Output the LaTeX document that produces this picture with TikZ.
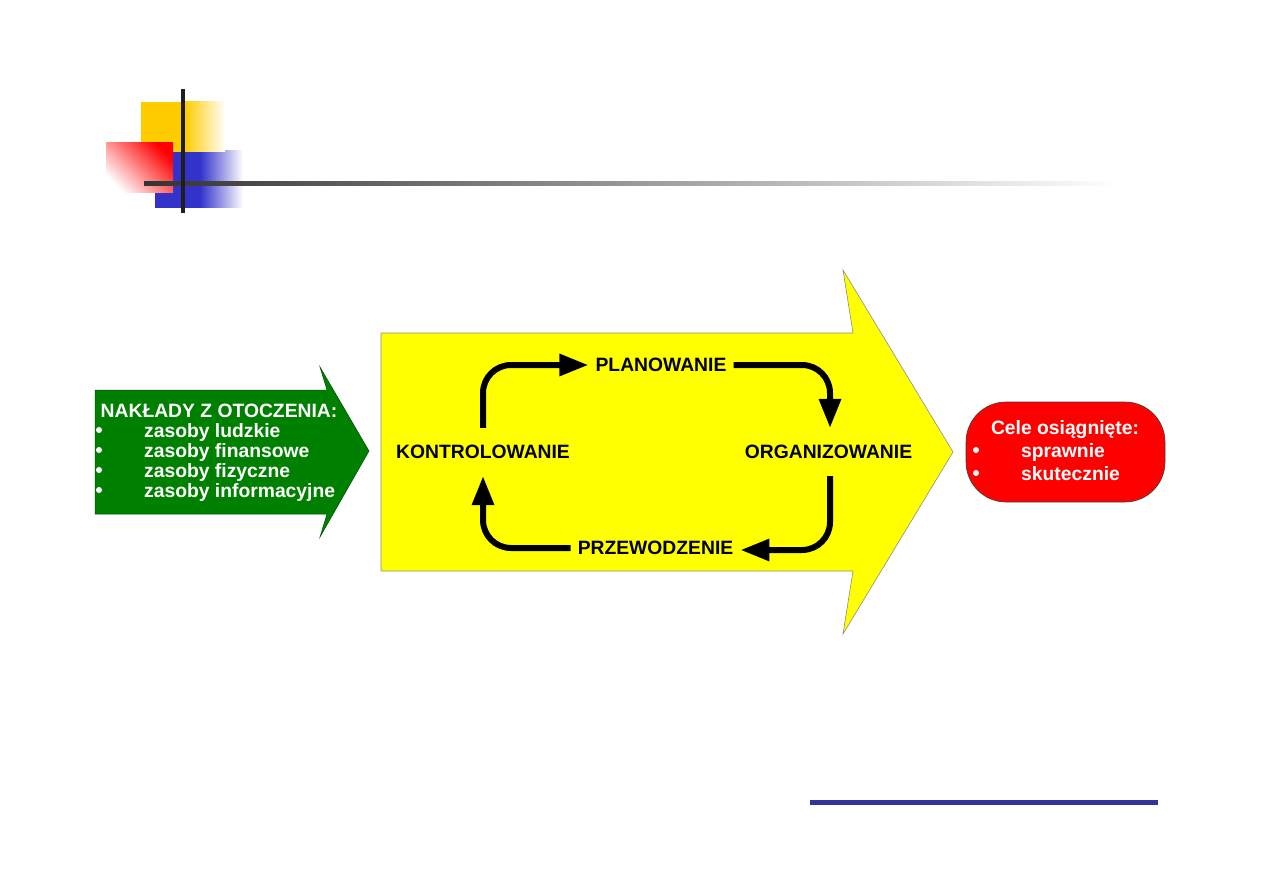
\documentclass[tikz,border=0pt]{standalone}
\usepackage{fontspec}
\setmainfont{Liberation Sans}
\usetikzlibrary{arrows.meta, positioning, calc}
\definecolor{mygreen}{RGB}{0,128,0}
\definecolor{myyellow}{RGB}{255,255,0}
\definecolor{myred}{RGB}{255,0,0}
\definecolor{mygold}{RGB}{255,204,0}
\definecolor{myblue}{RGB}{51,51,204}
\definecolor{mynavy}{RGB}{51,51,153}
\definecolor{mydark}{RGB}{30,30,30}
\tikzset{
  bigfont/.style={font=\fontsize{19.3}{20}\selectfont\bfseries},
  word/.style={bigfont, inner xsep=7pt, inner ysep=17pt, text=black},
  item/.style={bigfont, inner sep=0pt, text=white},
  dot/.style={circle, fill=white, inner sep=0pt, minimum size=6pt},
  cyc/.style={draw=black, line width=6pt, rounded corners=28pt, -{Triangle[length=29pt, width=21pt]}},
  goal/.style={draw=black!75, fill=myred, line width=0.6pt, rounded corners=40pt, minimum width=199pt, minimum height=100pt}
}
\begin{document}
\begin{tikzpicture}[x=1pt, y=-1pt]
  \useasboundingbox (0,0) rectangle (1263,893);
  % title decoration
  \fill [myblue] (155,151) rectangle (200,208);
  \shade [left color=myblue, right color=white] (200,151) rectangle (243,208);
  \fill [mygold] (141,102) rectangle (185,152);
  \shade [left color=mygold, right color=white] (185,102) rectangle (225,152);
  \shade [top color=myred, bottom color=white, shading angle=-45] (106,143) rectangle (173,193);
  \shade [left color=black!80, right color=white] (144,182) rectangle (1120,186);
  \draw [mydark, line width=4pt] (183,89) -- (183,213);

  % input arrow (left)
  \fill [mygreen, draw=mygreen!60!black, line width=0.5pt]
    (95,390) -- (327,390) -- (320,367) -- (369,451) -- (320,537) -- (327,514) -- (95,514) -- cycle;
  \node [item, anchor=base] (inp) at (219,417) {NAKŁADY Z OTOCZENIA:};
  \foreach \txt [count=\i] in {zasoby ludzkie, zasoby finansowe, zasoby fizyczne, zasoby informacyjne}{
    \node [item, anchor=base west] (in\i) at (144,417+20*\i) {\txt};
    \node [dot] (ind\i) at (99,410+20*\i) {};
  }

  % management cycle (big arrow)
  \fill [myyellow, draw=black!45, line width=0.6pt]
    (381,333) -- (853,333) -- (843,270) -- (953,452) -- (843,634) -- (853,571) -- (381,571) -- cycle;
  \node [word] (plan) at (661,365) {PLANOWANIE};
  \node [word] (org) at (828.5,452) {ORGANIZOWANIE};
  \node [word] (prz) at (655.5,548) {PRZEWODZENIE};
  \node [word] (kon) at (483,452) {KONTROLOWANIE};

  \draw [cyc] (kon.north) |- (plan.west);
  \draw [cyc] (plan.east) -| ([xshift=1.5pt]org.north);
  \draw [cyc] ([xshift=1.5pt]org.south) |- ([yshift=-2pt]prz.east);
  \draw [cyc] (prz.west) -| (kon.south);

  % goals (right)
  \node [goal] (goal) at (1065.5,452) {};
  \node [item, anchor=base] (gtitle) at (1065,434) {Cele osiągnięte:};
  \foreach \txt [count=\i] in {sprawnie, skutecznie}{
    \node [item, anchor=base west] (g\i) at (1021,434+23*\i) {\txt};
    \node [dot] (gd\i) at (976,427+23*\i) {};
  }

  % footer line
  \fill [mynavy] (810,800) rectangle (1158,805);
\end{tikzpicture}
\end{document}
